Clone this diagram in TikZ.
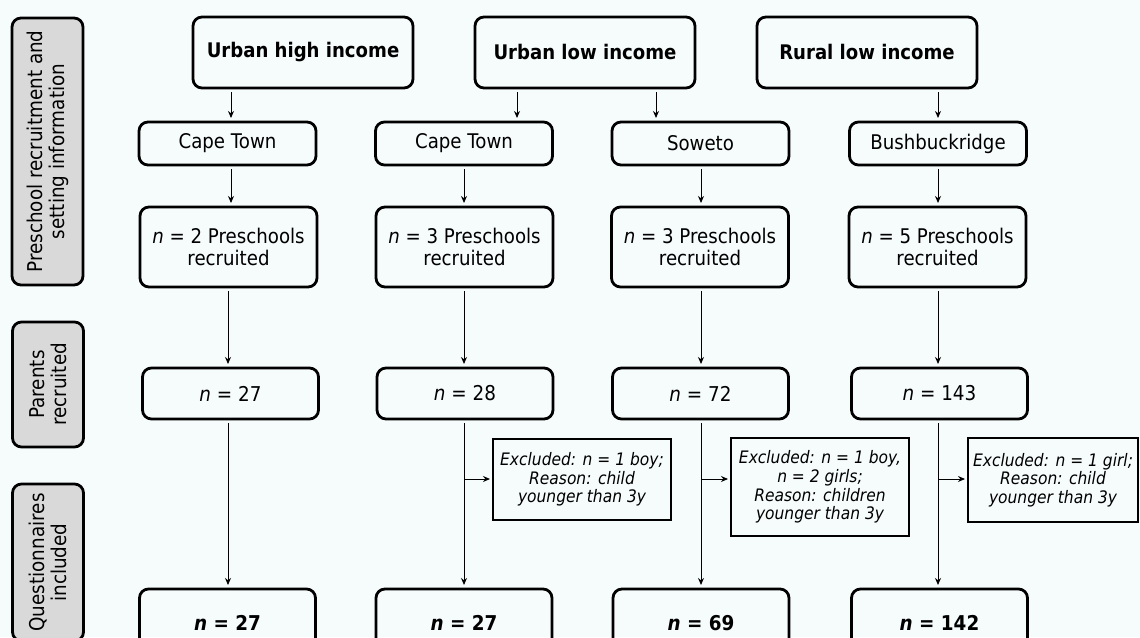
\documentclass[tikz,border=0pt]{standalone}
\usepackage{fontspec}
\setmainfont{DejaVu Sans}[FakeStretch=0.9]
\newfontfamily\narrowf{DejaVu Sans}[FakeStretch=0.9]
\usetikzlibrary{arrows.meta}
\definecolor{bgc}{HTML}{F6FBFC}
\definecolor{lblgray}{HTML}{D9D9D9}
\begin{document}
\begin{tikzpicture}[x=1pt,y=-1pt,
  base/.style={draw=black, line width=2.8pt, inner sep=0pt, outer sep=0pt, align=center},
  rbox/.style={base, rounded corners=9pt},
  head/.style={rbox, minimum width=220pt, minimum height=71pt, font=\fontsize{20.1}{22}\selectfont\bfseries},
  site/.style={rbox, minimum width=177pt, minimum height=43pt, font=\narrowf\fontsize{20.2}{21.5}\selectfont},
  pre/.style={rbox, minimum width=177pt, minimum height=80pt, font=\narrowf\fontsize{20.2}{21.5}\selectfont},
  par/.style={rbox, minimum width=176pt, minimum height=51pt, font=\fontsize{20.4}{21}\selectfont},
  fin/.style={rbox, minimum width=176pt, minimum height=68pt, font=\fontsize{20.4}{21}\selectfont\bfseries},
  excl/.style={base, minimum height=81pt, font=\fontsize{17.2}{18.6}\selectfont\itshape},
  glabel/.style={base, rounded corners=9pt, fill=lblgray, rotate=90, minimum height=71pt, font=\fontsize{20.4}{22}\selectfont},
  arr/.style={-{Stealth[length=7pt,width=6pt]}, line width=1pt, shorten <=4pt, shorten >=4pt},
  harr/.style={-{Stealth[length=7pt,width=6pt]}, line width=1pt, shorten >=3pt}
]
\useasboundingbox (0,0) rectangle (1140,637);
\fill[bgc] (0,0) rectangle (1140,637);
\begin{scope}
\clip (0,0) rectangle (1140,637);

% side labels
\node[glabel, minimum width=267pt] (g1) at (47.5,151.5) {Preschool recruitment and\\setting information};
\node[glabel, minimum width=125pt] (g2) at (48,384.5) {Parents\\recruited};
\node[glabel, minimum width=157pt] (g3) at (48,562.5) {Questionnaires\\included};

% row 1
\node[head] (uhi) at (303,52.5) {Urban high income};
\node[head] (uli) at (585,52.5) {Urban low income};
\node[head] (rli) at (867,52.5) {Rural low income};

% row 2
\node[site] (ct1) at (227.5,143.5) {Cape Town};
\node[site] (ct2) at (464,143.5) {Cape Town};
\node[site] (sow) at (700.5,143.5) {Soweto};
\node[site] (bsh) at (938,143.5) {Bushbuckridge};

% row 3
\node[pre] (p1) at (228.5,247) {\textit{n} = 2 Preschools\\recruited};
\node[pre] (p2) at (464.5,247) {\textit{n} = 3 Preschools\\recruited};
\node[pre] (p3) at (700,247) {\textit{n} = 3 Preschools\\recruited};
\node[pre] (p4) at (937.5,247) {\textit{n} = 5 Preschools\\recruited};

% row 4
\node[par] (r1) at (230.5,393.5) {\textit{n} = 27};
\node[par] (r2) at (465,393.5) {\textit{n} = 28};
\node[par] (r3) at (700.5,393.5) {\textit{n} = 72};
\node[par] (r4) at (939.5,393.5) {\textit{n} = 143};

% row 5
\node[fin] (f1) at (227.5,623) {\textit{n} = 27};
\node[fin] (f2) at (464,623) {\textit{n} = 27};
\node[fin] (f3) at (701,623) {\textit{n} = 69};
\node[fin] (f4) at (939.5,623) {\textit{n} = 142};

% exclusion boxes
\node[excl, minimum width=178pt] (e1) at (582,479.5) {Excluded: \textit{n} = 1 boy;\\Reason: child\\younger than 3y};
\node[excl, minimum width=178pt, minimum height=98pt] (e2) at (820,487) {Excluded: \textit{n} = 1 boy,\\\textit{n} = 2 girls;\\Reason: children\\younger than 3y};
\node[excl, minimum width=170pt, minimum height=84pt] (e3) at (1053,480) {Excluded: \textit{n} = 1 girl;\\Reason: child\\younger than 3y};

% column x coordinates
\coordinate (a1) at (231,0);
\coordinate (a2) at (517,0);
\coordinate (a3) at (656,0);
\coordinate (a4) at (938,0);
\coordinate (c1) at (228,0);
\coordinate (c2) at (464,0);
\coordinate (c3) at (701,0);
\coordinate (c4) at (938,0);

% row1 -> row2
\draw[arr] (uhi.south -| a1) -- (ct1.north -| a1);
\draw[arr] (uli.south -| a2) -- (ct2.north -| a2);
\draw[arr] (uli.south -| a3) -- (sow.north -| a3);
\draw[arr] (rli.south -| a4) -- (bsh.north -| a4);

% row2 -> row3
\draw[arr] (ct1.south -| a1) -- (p1.north -| a1);
\draw[arr] (ct2.south) -- (p2.north -| ct2.south);
\draw[arr] (sow.south -| c3) -- (p3.north -| c3);
\draw[arr] (bsh.south -| c4) -- (p4.north -| c4);

% row3 -> row4
\draw[arr] (p1.south -| c1) -- (r1.north -| c1);
\draw[arr] (p2.south -| c2) -- (r2.north -| c2);
\draw[arr] (p3.south -| c3) -- (r3.north -| c3);
\draw[arr] (p4.south -| c4) -- (r4.north -| c4);

% row4 -> row5
\draw[arr] (r1.south -| c1) -- (f1.north -| c1);
\draw[arr] (r2.south -| c2) -- (f2.north -| c2);
\draw[arr] (r3.south -| c3) -- (f3.north -| c3);
\draw[arr] (r4.south -| c4) -- (f4.north -| c4);

% branches to exclusions
\coordinate (b2) at (464,479);
\coordinate (b3) at (701,479);
\coordinate (b4) at (938,479);
\draw[harr] (b2) -- (b2 -| e1.west);
\draw[harr] (b3) -- (b3 -| e2.west);
\draw[harr] (b4) -- (b4 -| e3.west);
\end{scope}
\end{tikzpicture}
\end{document}
